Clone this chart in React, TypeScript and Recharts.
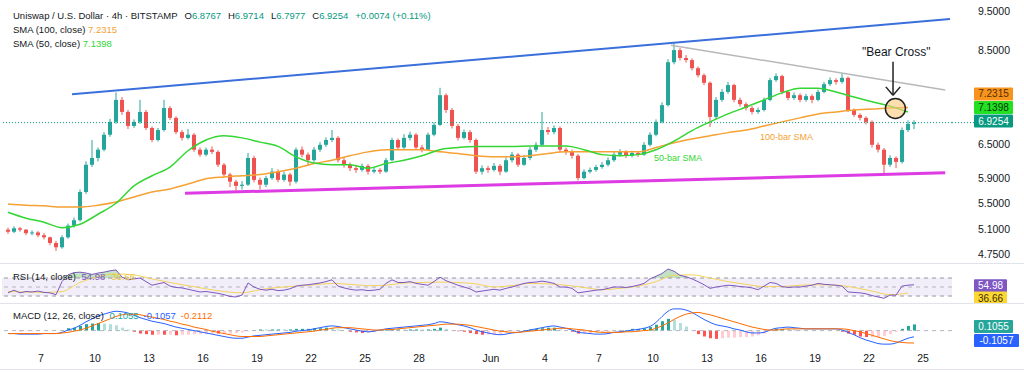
import React from "react";
import {
  ComposedChart,
  Bar,
  Line,
  Area,
  XAxis,
  YAxis,
  ReferenceLine,
  ReferenceArea,
  ReferenceDot,
  Cell,
} from "recharts";

const FONT = '"Liberation Sans", Arial, sans-serif';
const UP = "#26a69a";
const DOWN = "#ef5350";
const TEAL = "#089981";
const ORANGE = "#f5a133";
const GREEN = "#33d633";
const PURPLE = "#7e57c2";
const YELLOW = "#f4d35e";
const INK = "#131722";

// 8h candles starting 5 May, index 0..151
const firstOpen = 5.1;
const closes = [
  5.07, 5.12, 5.10, 5.05, 5.06, 5.02, 4.99, 4.91, 4.85, 4.99,
  5.16, 5.24, 5.68, 6.14, 6.26, 6.41, 6.69, 6.94, 7.39, 7.14,
  6.86, 6.94, 7.14, 6.82, 6.59, 6.78, 7.22, 7.02, 6.74, 6.63,
  6.69, 6.41, 6.32, 6.41, 6.37, 6.14, 5.97, 5.85, 5.78, 5.80,
  6.26, 5.88, 5.80, 5.91, 6.02, 5.88, 5.97, 5.85, 6.41, 6.32,
  6.22, 6.41, 6.50, 6.59, 6.63, 6.22, 6.14, 6.08, 6.05, 6.12,
  6.02, 6.05, 6.02, 6.22, 6.59, 6.45, 6.63, 6.69, 6.45, 6.41,
  6.69, 6.88, 7.49, 7.18, 6.86, 6.63, 6.74, 6.59, 6.02, 6.08,
  6.05, 6.12, 6.02, 6.22, 6.32, 6.14, 6.26, 6.41, 6.50, 6.78,
  6.74, 6.82, 6.41, 6.37, 6.30, 5.91, 6.02, 6.05, 6.10, 6.14,
  6.22, 6.32, 6.37, 6.30, 6.35, 6.32, 6.50, 6.69, 6.94, 7.28,
  8.23, 8.52, 8.33, 8.28, 8.09, 7.93, 7.76, 7.04, 7.39, 7.56,
  7.71, 7.39, 7.30, 7.22, 7.14, 7.18, 7.39, 7.82, 7.91, 7.56,
  7.43, 7.49, 7.39, 7.47, 7.39, 7.56, 7.73, 7.82, 7.78, 7.87,
  7.18, 7.08, 7.02, 6.94, 6.50, 6.41, 6.14, 6.26, 6.19, 6.78,
  6.90, 6.9254,
];
const highs = [
  5.13, 5.15, 5.14, 5.11, 5.09, 5.08, 5.05, 5.00, 4.94, 5.02,
  5.19, 5.28, 5.72, 6.20, 6.59, 6.45, 6.74, 7.00, 7.55, 7.45,
  7.18, 6.99, 7.39, 7.18, 6.85, 6.82, 7.39, 7.26, 7.05, 6.78,
  6.80, 6.72, 6.45, 6.45, 6.47, 6.40, 6.17, 6.00, 5.88, 5.86,
  6.35, 6.30, 5.92, 5.95, 6.08, 6.06, 6.02, 6.00, 6.45, 6.47,
  6.36, 6.46, 6.55, 6.64, 6.78, 6.66, 6.26, 6.18, 6.12, 6.16,
  6.15, 6.09, 6.08, 6.26, 6.63, 6.62, 6.70, 6.75, 6.72, 6.50,
  6.73, 6.93, 7.65, 7.53, 7.22, 6.90, 6.79, 6.78, 6.62, 6.13,
  6.12, 6.17, 6.15, 6.27, 6.37, 6.35, 6.31, 6.46, 6.55, 7.14,
  6.84, 6.87, 6.85, 6.45, 6.41, 6.33, 6.06, 6.09, 6.14, 6.19,
  6.27, 6.37, 6.42, 6.40, 6.39, 6.38, 6.55, 6.74, 6.99, 7.34,
  8.30, 8.68, 8.57, 8.40, 8.32, 8.13, 7.97, 7.79, 7.45, 7.62,
  7.78, 7.74, 7.44, 7.34, 7.26, 7.23, 7.44, 7.87, 7.97, 7.94,
  7.60, 7.55, 7.53, 7.52, 7.51, 7.61, 7.78, 7.88, 7.86, 7.97,
  7.90, 7.21, 7.11, 7.05, 6.97, 6.54, 6.44, 6.31, 6.29, 6.83,
  6.97, 6.9714,
];
const lows = [
  5.04, 5.05, 5.07, 5.02, 5.02, 4.99, 4.96, 4.88, 4.80, 4.83,
  4.97, 5.13, 5.22, 5.65, 6.10, 6.20, 6.38, 6.65, 6.90, 7.08,
  6.80, 6.82, 6.90, 6.78, 6.55, 6.56, 6.75, 6.98, 6.70, 6.58,
  6.60, 6.37, 6.28, 6.29, 6.33, 6.10, 5.93, 5.76, 5.70, 5.72,
  5.78, 5.84, 5.72, 5.76, 5.88, 5.84, 5.85, 5.78, 5.82, 6.27,
  6.12, 6.19, 6.37, 6.46, 6.55, 6.18, 6.09, 6.03, 6.00, 6.02,
  5.97, 5.99, 5.98, 6.00, 6.20, 6.41, 6.42, 6.58, 6.41, 6.36,
  6.39, 6.66, 6.86, 7.12, 6.81, 6.58, 6.60, 6.54, 5.98, 5.97,
  6.00, 6.02, 5.96, 6.00, 6.18, 6.10, 6.12, 6.22, 6.37, 6.47,
  6.69, 6.70, 6.36, 6.32, 6.25, 5.87, 5.89, 5.99, 6.02, 6.07,
  6.11, 6.19, 6.29, 6.26, 6.27, 6.28, 6.30, 6.47, 6.66, 6.91,
  7.25, 8.18, 8.27, 8.22, 8.04, 7.88, 7.71, 6.84, 7.00, 7.35,
  7.52, 7.34, 7.25, 7.17, 7.09, 7.10, 7.15, 7.36, 7.78, 7.51,
  7.38, 7.39, 7.34, 7.35, 7.32, 7.36, 7.53, 7.69, 7.72, 7.74,
  7.14, 7.04, 6.97, 6.89, 6.45, 6.36, 5.99, 6.10, 6.08, 6.16,
  6.74, 6.7977,
];

// moving averages read once per day (every 3rd candle)
const sma50Daily = [
  5.36, 5.27, 5.21, 5.13, 5.18, 5.33, 5.50, 5.78, 5.95, 6.10, 6.39, 6.59, 6.67,
  6.63, 6.55, 6.47, 6.28, 6.17, 6.14, 6.14, 6.08, 6.16, 6.22, 6.30, 6.41, 6.45,
  6.47, 6.47, 6.47, 6.48, 6.48, 6.48, 6.41, 6.32, 6.30, 6.32, 6.41, 6.57, 6.77,
  6.94, 7.10, 7.24, 7.39, 7.54, 7.64, 7.64, 7.56, 7.45, 7.35, 7.26, 7.14,
];
const sma100Daily = [
  5.49, 5.47, 5.46, 5.44, 5.44, 5.47, 5.52, 5.60, 5.68, 5.73, 5.81, 5.90, 5.93,
  5.95, 5.97, 6.02, 6.08, 6.16, 6.22, 6.30, 6.37, 6.41, 6.41, 6.41, 6.37, 6.34,
  6.30, 6.28, 6.28, 6.30, 6.34, 6.37, 6.37, 6.37, 6.37, 6.37, 6.45, 6.54, 6.61,
  6.67, 6.73, 6.78, 6.86, 6.94, 7.02, 7.10, 7.14, 7.18, 7.20, 7.22, 7.23,
];

const rsi = [
  37, 43, 37, 40, 39, 41, 38, 37, 33, 62,
  77, 82, 83, 81, 78, 81, 83, 86, 88, 72,
  66, 68, 70, 62, 54, 57, 60, 52, 49, 48,
  45, 42, 39, 40, 38, 36, 33, 29, 28, 32,
  59, 50, 45, 43, 45, 42, 43, 46, 52, 54,
  55, 57, 59, 62, 66, 52, 48, 45, 43, 44,
  42, 43, 45, 58, 66, 60, 60, 62, 58, 56,
  54, 62, 72, 64, 59, 54, 50, 46, 39, 41,
  43, 45, 43, 47, 50, 54, 58, 60, 61, 63,
  61, 58, 50, 50, 47, 37, 39, 41, 43, 44,
  47, 50, 50, 49, 51, 54, 58, 68, 74, 80,
  90, 85, 76, 73, 68, 62, 55, 47, 50, 52,
  54, 53, 51, 50, 48, 44, 52, 60, 58, 51,
  49, 50, 50, 52, 54, 58, 56, 55, 54, 52,
  39, 38, 37, 35, 31, 28, 25, 32, 32, 52,
  54, 54.98,
];
const rsiMaDaily = [
  40, 39, 38, 40, 60, 73, 79, 77, 68, 60, 53, 46, 40, 37, 44, 49, 52, 55, 58,
  56, 53, 54, 59, 60, 61, 60, 57, 50, 53, 58, 57, 54, 49, 44, 47, 52, 62, 76,
  77, 70, 62, 56, 51, 51, 54, 55, 54, 49, 41, 33, 36.66,
];

const macd = [
  -0.05, -0.05, -0.06, -0.06, -0.06, -0.06, -0.05, -0.05, -0.05, -0.03,
  0.01, 0.04, 0.09, 0.15, 0.20, 0.25, 0.28, 0.31, 0.33, 0.32,
  0.30, 0.26, 0.22, 0.19, 0.16, 0.14, 0.12, 0.09, 0.06, 0.04,
  0.02, 0.00, -0.02, -0.04, -0.06, -0.08, -0.10, -0.12, -0.13, -0.13,
  -0.11, -0.09, -0.08, -0.07, -0.06, -0.05, -0.04, -0.03, -0.01, 0.00,
  0.01, 0.03, 0.05, 0.07, 0.08, 0.07, 0.05, 0.03, 0.01, -0.01,
  -0.02, -0.01, 0.01, 0.03, 0.04, 0.05, 0.06, 0.07, 0.08, 0.09,
  0.10, 0.12, 0.15, 0.14, 0.12, 0.10, 0.08, 0.05, 0.01, -0.02,
  -0.04, -0.06, -0.07, -0.06, -0.04, -0.03, -0.01, 0.01, 0.03, 0.05,
  0.07, 0.08, 0.06, 0.04, 0.01, -0.03, -0.04, -0.05, -0.06, -0.06,
  -0.05, -0.03, -0.02, -0.01, 0.01, 0.02, 0.04, 0.07, 0.14, 0.24,
  0.33, 0.37, 0.37, 0.35, 0.31, 0.25, 0.19, 0.14, 0.10, 0.08,
  0.06, 0.03, 0.01, -0.02, -0.04, -0.04, -0.03, 0.01, 0.04, 0.05,
  0.06, 0.05, 0.04, 0.03, 0.03, 0.03, 0.03, 0.03, 0.03, 0.01,
  -0.03, -0.07, -0.12, -0.16, -0.19, -0.22, -0.23, -0.23, -0.21, -0.17,
  -0.13, -0.1057,
];
const signal = [
  -0.05, -0.05, -0.05, -0.05, -0.05, -0.05, -0.05, -0.05, -0.05, -0.04,
  -0.03, -0.01, 0.01, 0.04, 0.08, 0.12, 0.16, 0.20, 0.24, 0.27,
  0.28, 0.28, 0.27, 0.25, 0.23, 0.21, 0.19, 0.16, 0.14, 0.11,
  0.09, 0.06, 0.04, 0.02, -0.01, -0.03, -0.05, -0.07, -0.09, -0.10,
  -0.10, -0.10, -0.10, -0.09, -0.08, -0.07, -0.06, -0.05, -0.04, -0.03,
  -0.02, -0.01, 0.01, 0.02, 0.04, 0.05, 0.05, 0.05, 0.04, 0.03,
  0.02, 0.01, 0.01, 0.02, 0.02, 0.03, 0.04, 0.05, 0.06, 0.07,
  0.08, 0.09, 0.10, 0.11, 0.11, 0.11, 0.10, 0.09, 0.07, 0.05,
  0.03, 0.01, -0.01, -0.02, -0.03, -0.03, -0.02, -0.01, 0.00, 0.01,
  0.02, 0.03, 0.04, 0.04, 0.03, 0.02, 0.01, -0.01, -0.02, -0.03,
  -0.03, -0.03, -0.03, -0.02, -0.02, -0.01, 0.00, 0.01, 0.04, 0.08,
  0.13, 0.19, 0.24, 0.28, 0.30, 0.31, 0.29, 0.27, 0.24, 0.21,
  0.18, 0.15, 0.12, 0.09, 0.06, 0.04, 0.02, 0.01, 0.01, 0.02,
  0.03, 0.03, 0.03, 0.03, 0.03, 0.03, 0.03, 0.03, 0.03, 0.03,
  0.02, 0.00, -0.02, -0.05, -0.08, -0.11, -0.14, -0.17, -0.19, -0.20,
  -0.21, -0.2112,
];

const priceTicks = [4.75, 5.1, 5.5, 5.9, 6.5, 8.5, 9.5];
const dayTicks = [2, 5, 8, 11, 14, 17, 20, 23, 27, 30, 33, 36, 39, 42, 45, 48, 51];
const dayLabels = ["7", "10", "13", "16", "19", "22", "25", "28", "Jun", "4", "7", "10", "13", "16", "19", "22", "25"];

// drawings, [candle index, price]
const blueLine = [[10.67, 7.51], [157, 9.31]];
const grayLine = [[110.5, 8.64], [156.2, 7.6]];
const pinkLine = [[29.5, 5.66], [156.2, 6.0]];
const crossAt = [147.9, 7.21];

const tickIdx = dayTicks.map((d) => d * 3 - 0.5);
const X_DOMAIN: [number, number] = [-1, 157.33];
const MARGIN = { top: 0, right: 0, bottom: 0, left: 2 };
const AXIS_W = 72;

const rows = closes.map((c, i) => {
  const o = i === 0 ? firstOpen : closes[i - 1];
  const h = Math.max(highs[i], o, c);
  const l = Math.min(lows[i], o, c);
  const hist = macd[i] - signal[i];
  const prev = i === 0 ? hist : macd[i - 1] - signal[i - 1];
  let histColor;
  if (hist >= 0) histColor = hist >= prev ? "#26a69a" : "#b2dfdb";
  else histColor = hist < prev ? "#ff5252" : "#ffcdd2";
  return {
    i,
    o,
    h,
    l,
    c,
    range: [l, h],
    sma50: i % 3 === 0 ? sma50Daily[i / 3] : null,
    sma100: i % 3 === 0 ? sma100Daily[i / 3] : null,
    rsi: rsi[i],
    rsiMa: i % 3 === 0 ? rsiMaDaily[i / 3] : null,
    ob: [70, Math.max(70, rsi[i])],
    macd: macd[i],
    signal: signal[i],
    hist,
    histColor,
  };
});

const seg = (p: number[][]) => [
  { x: p[0][0], y: p[0][1] },
  { x: p[1][0], y: p[1][1] },
];

const Candle = (props: any) => {
  const { x, y, width, height, payload } = props;
  if (x == null || !payload) return null;
  const { o, h, l, c } = payload;
  const top = Math.min(y, y + height);
  const span = Math.abs(height);
  const k = span / Math.log(h / l);
  const at = (v: number) => top + Math.log(h / v) * k;
  const color = c >= o ? UP : DOWN;
  const bTop = at(Math.max(o, c));
  const bBot = at(Math.min(o, c));
  const cx = x + width / 2;
  return (
    <g>
      <line x1={cx} x2={cx} y1={top} y2={top + span} stroke={color} strokeWidth={1} />
      <rect x={x} y={bTop} width={width} height={Math.max(1, bBot - bTop)} fill={color} />
    </g>
  );
};

const PriceTick = (props: any) => {
  const { y, payload } = props;
  return (
    <text x={994} y={y} dy={3.5} textAnchor="middle" fontSize={10.5} fontFamily={FONT} fill={INK}>
      {Number(payload.value).toFixed(4)}
    </text>
  );
};

const DayTick = (props: any) => {
  const { x, y, payload } = props;
  const idx = tickIdx.indexOf(payload.value);
  return (
    <text x={x} y={y} dy={4} textAnchor="middle" fontSize={10.5} fontFamily={FONT} fill={INK}>
      {dayLabels[idx]}
    </text>
  );
};

const badge = (text: string, bg: string, fg: string, dy: number, extend = false) => (props: any) => {
  const vb = props.viewBox;
  if (!vb) return null;
  const right = vb.x + vb.width;
  const x0 = right + 22;
  const yy = vb.y + dy;
  const w = 3 + 6 * text.length;
  return (
    <g>
      {extend && <line x1={right} x2={x0} y1={vb.y} y2={vb.y} stroke={TEAL} strokeDasharray="1 2" />}
      <rect x={x0} y={yy - 6.5} width={w} height={13} fill={bg} rx={1} />
      <text x={x0 + w / 2} y={yy} dy={3.5} textAnchor="middle" fontSize={10} fontFamily={FONT} fill={fg}>
        {text}
      </text>
    </g>
  );
};

const lastClose = closes[closes.length - 1];
const lastSma50 = 7.1398;
const lastSma100 = 7.2315;
const lastRsi = 54.98;
const lastRsiMa = 36.66;
const lastMacd = -0.1057;
const lastHist = 0.1055;

const abs = (l: number, t: number, extra: any = {}) => ({ position: "absolute" as const, left: l, top: t, ...extra });

export default function App() {
  return (
    <div style={{ position: "absolute", left: 0, top: 0, width: 1024, height: 378, background: "#fff", overflow: "hidden", fontFamily: FONT }}>
      {/* price pane */}
      <div style={abs(0, 0)}>
        <ComposedChart width={1024} height={263} data={rows} margin={MARGIN}>
          <XAxis dataKey="i" type="number" domain={X_DOMAIN} allowDataOverflow hide />
          <YAxis
            orientation="right"
            type="number"
            scale="log"
            domain={[4.637, 9.831]}
            allowDataOverflow
            ticks={priceTicks}
            interval={0}
            width={AXIS_W}
            axisLine={false}
            tickLine={false}
            tick={PriceTick}
          />
          <Bar dataKey="range" barSize={4} shape={Candle} isAnimationActive={false} />
          <Line dataKey="sma100" type="monotone" stroke={ORANGE} strokeWidth={1.5} dot={false} connectNulls isAnimationActive={false} />
          <Line dataKey="sma50" type="monotone" stroke={GREEN} strokeWidth={1.5} dot={false} connectNulls isAnimationActive={false} />
          <ReferenceLine segment={seg(blueLine)} stroke="#3a6fdc" strokeWidth={2} />
          <ReferenceLine segment={seg(grayLine)} stroke="#b8b8b8" strokeWidth={1.5} />
          <ReferenceLine segment={seg(pinkLine)} stroke="#dd3be3" strokeWidth={3} />
          <ReferenceLine y={lastClose} stroke={TEAL} strokeDasharray="1 2" label={badge("6.9254", TEAL, "#fff", -1.5, true)} />
          <ReferenceLine y={lastSma50} stroke="none" label={badge("7.1398", "#22e022", "#063806", -4.5)} />
          <ReferenceLine y={lastSma100} stroke="none" label={badge("7.2315", "#f7941d", "#5a2d00", -13.5)} />
          <ReferenceDot x={crossAt[0]} y={crossAt[1]} r={10} fill="#fbc97a" fillOpacity={0.6} stroke="#222" strokeWidth={1.5} />
          <ReferenceLine segment={[{ x: 147.5, y: 8.24 }, { x: 147.5, y: 7.49 }]} stroke="#222" strokeWidth={1.5} />
          <ReferenceLine segment={[{ x: 146.3, y: 7.67 }, { x: 147.5, y: 7.49 }]} stroke="#222" strokeWidth={1.5} />
          <ReferenceLine segment={[{ x: 148.7, y: 7.67 }, { x: 147.5, y: 7.49 }]} stroke="#222" strokeWidth={1.5} />
        </ComposedChart>
      </div>

      {/* RSI pane */}
      <div style={abs(0, 265)}>
        <ComposedChart width={1024} height={38} data={rows} margin={MARGIN}>
          <XAxis dataKey="i" type="number" domain={X_DOMAIN} allowDataOverflow hide />
          <YAxis orientation="right" type="number" domain={[14.5, 98.9]} allowDataOverflow width={AXIS_W} tick={false} axisLine={false} tickLine={false} />
          <ReferenceArea y1={30} y2={70} fill={PURPLE} fillOpacity={0.1} stroke="none" />
          <ReferenceLine y={70} stroke="#9598a1" strokeDasharray="4 4" />
          <ReferenceLine y={50} stroke="#b2b5be" strokeDasharray="4 4" />
          <ReferenceLine y={30} stroke="#9598a1" strokeDasharray="4 4" />
          <Area dataKey="ob" type="linear" stroke="none" fill="#4caf50" fillOpacity={0.35} isAnimationActive={false} />
          <Line dataKey="rsiMa" type="monotone" stroke={YELLOW} strokeWidth={1} dot={false} connectNulls isAnimationActive={false} />
          <Line dataKey="rsi" type="linear" stroke={PURPLE} strokeWidth={1} dot={false} isAnimationActive={false} />
          <ReferenceLine y={lastRsi} stroke="none" label={badge("54.98", PURPLE, "#fff", 1)} />
          <ReferenceLine y={lastRsiMa} stroke="none" label={badge("36.66", "#fdd835", "#3a2f00", 5)} />
        </ComposedChart>
      </div>

      {/* MACD pane */}
      <div style={abs(0, 303)}>
        <ComposedChart width={1024} height={75} data={rows} margin={MARGIN}>
          <XAxis
            dataKey="i"
            type="number"
            domain={X_DOMAIN}
            allowDataOverflow
            ticks={tickIdx}
            interval={0}
            axisLine={false}
            tickLine={false}
            height={28}
            tick={DayTick}
          />
          <YAxis orientation="right" type="number" domain={[-0.33, 0.47]} allowDataOverflow width={AXIS_W} tick={false} axisLine={false} tickLine={false} />
          <ReferenceLine y={0} stroke="#b2b5be" strokeDasharray="4 4" />
          <Bar dataKey="hist" barSize={3} isAnimationActive={false}>
            {rows.map((r) => (
              <Cell key={`h-${r.i}`} fill={r.histColor} />
            ))}
          </Bar>
          <Line dataKey="macd" type="monotone" stroke="#2962ff" strokeWidth={1} dot={false} isAnimationActive={false} />
          <Line dataKey="signal" type="monotone" stroke="#ff6d00" strokeWidth={1} dot={false} isAnimationActive={false} />
          <ReferenceLine y={lastHist} stroke="none" label={badge("0.1055", "#26a69a", "#fff", 2)} />
          <ReferenceLine y={lastMacd} stroke="none" label={badge("-0.1057", "#2962ff", "#fff", 3.7)} />
        </ComposedChart>
      </div>

      {/* pane separators */}
      <div style={abs(0, 263, { width: 1024, height: 1, background: "#e0e3eb" })} />
      <div style={abs(0, 303, { width: 1024, height: 1, background: "#e0e3eb" })} />
      <div style={abs(0, 369, { width: 1024, height: 1, background: "#e0e3eb" })} />

      {/* legends */}
      <div style={abs(13, 9, { fontSize: 9.5, lineHeight: "14px", color: INK, whiteSpace: "nowrap" })}>
        <div>
          Uniswap / U.S. Dollar · 4h · BITSTAMP
          <span style={{ marginLeft: 7 }}>O</span><span style={{ color: TEAL }}>6.8767</span>
          <span style={{ marginLeft: 7 }}>H</span><span style={{ color: TEAL }}>6.9714</span>
          <span style={{ marginLeft: 7 }}>L</span><span style={{ color: TEAL }}>6.7977</span>
          <span style={{ marginLeft: 7 }}>C</span><span style={{ color: TEAL }}>6.9254</span>
          <span style={{ marginLeft: 7, color: TEAL }}>+0.0074 (+0.11%)</span>
        </div>
        <div>
          SMA (100, close) <span style={{ color: ORANGE }}>7.2315</span>
        </div>
        <div>
          SMA (50, close) <span style={{ color: GREEN }}>7.1398</span>
        </div>
      </div>
      <div style={abs(13, 271, { fontSize: 9.5, lineHeight: "12px", color: INK, whiteSpace: "nowrap" })}>
        RSI (14, close) <span style={{ color: PURPLE, marginLeft: 3 }}>54.98</span>
        <span style={{ color: "#e8c23a", marginLeft: 6 }}>36.66</span>
      </div>
      <div style={abs(13, 310, { fontSize: 9.5, lineHeight: "12px", color: INK, whiteSpace: "nowrap" })}>
        MACD (12, 26, close) <span style={{ color: "#26a69a", marginLeft: 3 }}>0.1055</span>
        <span style={{ color: "#2962ff", marginLeft: 5 }}>-0.1057</span>
        <span style={{ color: "#ff6d00", marginLeft: 5 }}>-0.2112</span>
      </div>

      {/* annotations */}
      <div style={abs(862, 45, { fontSize: 12, lineHeight: "15px", color: INK, whiteSpace: "nowrap" })}>"Bear Cross"</div>
      <div style={abs(760, 131, { fontSize: 9, lineHeight: "12px", color: ORANGE, whiteSpace: "nowrap" })}>100-bar SMA</div>
      <div style={abs(654, 152, { fontSize: 9, lineHeight: "12px", color: GREEN, whiteSpace: "nowrap" })}>50-bar SMA</div>
    </div>
  );
}
